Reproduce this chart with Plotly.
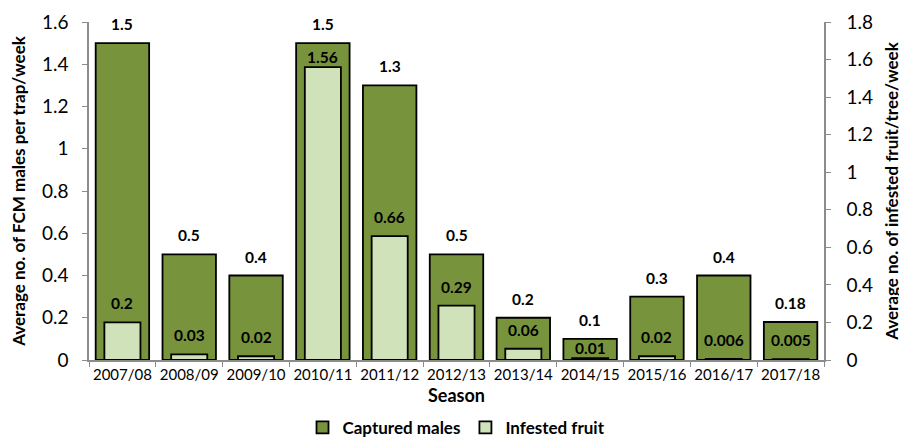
import plotly.graph_objects as go

seasons = ["2007/08", "2008/09", "2009/10", "2010/11", "2011/12", "2012/13",
           "2013/14", "2014/15", "2015/16", "2016/17", "2017/18"]
captured_males = [1.5, 0.5, 0.4, 1.5, 1.3, 0.5, 0.2, 0.1, 0.3, 0.4, 0.18]
infested_fruit = [0.2, 0.03, 0.02, 1.56, 0.66, 0.29, 0.06, 0.01, 0.02, 0.006, 0.005]

font = "Lato, 'Open Sans', sans-serif"

fig = go.Figure()

# Captured males - primary y-axis
fig.add_trace(go.Bar(
    x=seasons, y=captured_males, name="Captured males",
    width=0.8, offset=-0.4,
    marker=dict(color="#77933C", line=dict(color="black", width=1.8)),
))

# Infested fruit - secondary y-axis
fig.add_trace(go.Bar(
    x=seasons, y=infested_fruit, name="Infested fruit", yaxis="y2",
    width=0.54, offset=-0.27,
    marker=dict(color="#CFE2BA", line=dict(color="black", width=1.8)),
))

# data labels sit a bit higher above the bars than plotly's "outside" text
label_font = dict(family=font, size=15.5, color="black", weight="bold")
plot_h = 432 - 14 - 80
for s, v in zip(seasons, captured_males):
    fig.add_annotation(x=s, y=v, yref="y", text=str(v), showarrow=False,
                       yanchor="middle", yshift=19, font=label_font)
for s, v, m in zip(seasons, infested_fruit, captured_males):
    # keep the fruit label under the top edge of the males bar
    shift = 19
    if v / 1.8 * plot_h + 27 > m / 1.6 * plot_h:
        shift = 10
    fig.add_annotation(x=s, y=v, yref="y2", text=str(v), showarrow=False,
                       yanchor="middle", yshift=shift, font=label_font)

axis_common = dict(
    showgrid=False, zeroline=False, showline=True, linecolor="#8c8c8c",
    linewidth=1.5, ticks="outside", tickcolor="#8c8c8c", ticklen=5,
    tickfont=dict(family=font, size=19, color="black"), automargin=False,
)

# page body adds 8px on the left/top, so the figure is 8px smaller
fig.update_layout(
    barmode="overlay",
    width=899, height=432,
    margin=dict(l=81, r=83, t=14, b=80),
    plot_bgcolor="white", paper_bgcolor="white",
    font=dict(family=font, color="black"),
    xaxis=dict(
        showgrid=False, showline=True, linecolor="#8c8c8c", linewidth=1.5,
        ticks="outside", tickson="boundaries", tickcolor="#8c8c8c", ticklen=5,
        tickfont=dict(family=font, size=15, color="black"), automargin=False,
        tickangle=0,
        title=dict(text="<b>Season</b>", font=dict(family=font, size=18), standoff=8),
        range=[-0.5, 10.5],
    ),
    yaxis=dict(
        range=[0, 1.6], dtick=0.2, tickformat="~g", ticklabelstandoff=10,
        title=dict(text="<b>Average no. of FCM males per trap/week</b>",
                   font=dict(family=font, size=17), standoff=14),
        **axis_common,
    ),
    yaxis2=dict(
        range=[0, 1.8], dtick=0.2, tickformat="~g", overlaying="y", side="right",
        ticklabelstandoff=12,
        title=dict(text="<b>Average no. of infested fruit/tree/week</b>",
                   font=dict(family=font, size=17), standoff=14),
        **axis_common,
    ),
    legend=dict(
        orientation="h", x=0.5, xanchor="center",
        yref="container", y=0.028, yanchor="middle",
        font=dict(family=font, size=17, weight="bold"),
    ),
    showlegend=True,
)

fig.write_html("out.html")
